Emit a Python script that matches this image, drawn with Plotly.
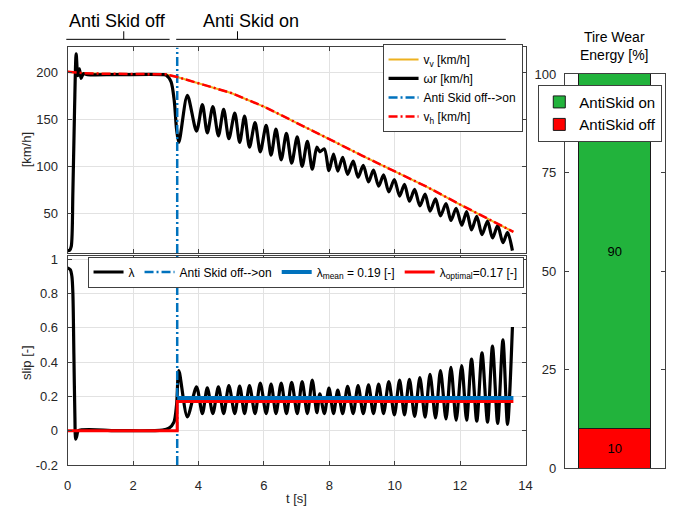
import plotly.graph_objects as go

# ---------------- data ----------------
switch_time = 3.35
end_time = 13.63

# vehicle speed / reference speed [km/h]
vh_t = [0, 0.5, 1, 2, 3, 3.35, 4, 5, 6, 7, 8, 9, 10, 11, 12, 13, 13.63]
vh_v = [201, 199.5, 199, 198.7, 198.3, 195.5, 188.5, 178.5, 164, 147, 129.5, 112, 95.5, 78.5, 60, 42, 31]
vv_t = vh_t
vv_v = vh_v

# wheel speed omega*r [km/h]
wr_t = [0, 0.06, 0.11, 0.16, 0.21, 0.26, 0.31, 0.36, 0.41, 0.48, 0.6, 1.5, 2.9, 3.01, 3.16, 3.26, 3.33,
        3.40, 3.66, 3.94, 4.12, 4.27, 4.44, 4.61, 4.77, 4.93, 5.11, 5.26, 5.41, 5.56, 5.73, 5.89, 6.07,
        6.22, 6.37, 6.53, 6.69, 6.85, 7.02, 7.17, 7.33, 7.48, 7.62, 7.71, 7.85, 7.99, 8.13, 8.26, 8.41,
        8.56, 8.73, 8.88, 9.04, 9.20, 9.35, 9.51, 9.66, 9.82, 9.99, 10.15, 10.30, 10.45, 10.61, 10.77,
        10.93, 11.08, 11.25, 11.40, 11.57, 11.72, 11.88, 12.05, 12.20, 12.35, 12.51, 12.67, 12.84, 12.99,
        13.15, 13.31, 13.45, 13.60]
wr_v = [11, 11.5, 15.5, 74, 160, 220, 197, 204, 194, 199, 198, 198, 198, 197.5, 190.5, 170, 140,
        126, 176, 138, 166, 136, 164, 133, 161, 130, 157, 126, 154, 121, 147, 116, 144,
        112.5, 140, 107.5, 135.5, 104, 132, 100.5, 127, 97.5, 121, 116, 119, 96, 113.5, 95.5, 110,
        92, 106, 89, 101.5, 84, 96.5, 79.5, 91.5, 73.5, 86.5, 69, 81.5, 63.5, 76, 58.5,
        71, 53, 66, 48, 61, 43, 56, 38, 52.5, 33, 47.5, 28, 42.5, 24.5,
        37.5, 19.5, 30.5, 11]

# slip lambda [-]
sl_t = [0, 0.08, 0.13, 0.16, 0.19, 0.22, 0.245, 0.28, 0.33, 1.5, 2.9, 3.1, 3.25, 3.33,
        3.40, 3.66, 3.94, 4.12, 4.27, 4.44, 4.61, 4.77, 4.93, 5.11, 5.26, 5.41, 5.56, 5.73, 5.89, 6.07,
        6.22, 6.37, 6.53, 6.69, 6.85, 7.02, 7.17, 7.33, 7.48, 7.62, 7.71, 7.85, 7.99, 8.13, 8.26, 8.41,
        8.56, 8.73, 8.88, 9.04, 9.20, 9.35, 9.51, 9.66, 9.82, 9.99, 10.15, 10.30, 10.45, 10.61, 10.77,
        10.93, 11.08, 11.25, 11.40, 11.57, 11.72, 11.88, 12.05, 12.20, 12.35, 12.51, 12.67, 12.84, 12.99,
        13.15, 13.31, 13.45, 13.60]
sl_v = [0.95, 0.94, 0.9, 0.8, 0.45, 0.1, -0.05, -0.03, 0.0, 0.0, 0.003, 0.015, 0.05, 0.15,
        0.35, 0.08, 0.255, 0.10, 0.25, 0.10, 0.255, 0.10, 0.263, 0.10, 0.26, 0.10, 0.263, 0.10, 0.278, 0.10,
        0.272, 0.10, 0.278, 0.10, 0.282, 0.10, 0.286, 0.10, 0.295, 0.105, 0.215, 0.10, 0.248, 0.10, 0.236, 0.10,
        0.258, 0.10, 0.263, 0.10, 0.267, 0.10, 0.272, 0.10, 0.286, 0.092, 0.295, 0.092, 0.30, 0.083, 0.31,
        0.079, 0.328, 0.074, 0.351, 0.068, 0.37, 0.061, 0.379, 0.061, 0.418, 0.055, 0.454, 0.049, 0.493,
        0.042, 0.53, 0.036, 0.605]

lambda_mean = 0.19
lambda_opt = 0.17

# tire wear energy [%]
wear_labels = ["AntiSkid off", "AntiSkid on"]
wear_values = [10, 90]
wear_colors = ["#ff0000", "#22b33c"]

top_yr = [8.6, 226.8]
bot_yr = [-0.2, 1.022]

W, H = 686, 514
def px(x): return x / W
def py(y): return 1 - y / H

BLUE = "#0072BD"
ORANGE = "#EDB120"
DASHDOT = "9px,3px,2px,3px"
AX = "#404040"
TXT = "#262626"
GRID = "#e2e2e2"
FONT = "Liberation Sans, Arial, sans-serif"

fig = go.Figure()

# top subplot
fig.add_trace(go.Scatter(x=vv_t, y=vv_v, mode="lines", name="v<sub>v</sub> [km/h]",
                         line=dict(color=ORANGE, width=2), xaxis="x", yaxis="y", legend="legend"))
fig.add_trace(go.Scatter(x=wr_t, y=wr_v, mode="lines", name="ωr [km/h]",
                         line=dict(color="black", width=3.2, shape="spline", smoothing=0.8),
                         xaxis="x", yaxis="y", legend="legend"))
fig.add_trace(go.Scatter(x=[switch_time, switch_time], y=top_yr, mode="lines", name="Anti Skid off-->on",
                         line=dict(color=BLUE, width=2.5, dash=DASHDOT), xaxis="x", yaxis="y", legend="legend"))
fig.add_trace(go.Scatter(x=vh_t, y=vh_v, mode="lines", name="v<sub>h</sub> [km/h]",
                         line=dict(color="#ff0000", width=2.5, dash=DASHDOT), xaxis="x", yaxis="y", legend="legend"))

# bottom subplot
fig.add_trace(go.Scatter(x=sl_t, y=sl_v, mode="lines", name="λ",
                         line=dict(color="black", width=3.2, shape="spline", smoothing=0.8),
                         xaxis="x2", yaxis="y2", legend="legend2"))
fig.add_trace(go.Scatter(x=[switch_time, switch_time], y=bot_yr, mode="lines", name="Anti Skid off-->on",
                         line=dict(color=BLUE, width=2.5, dash=DASHDOT), xaxis="x2", yaxis="y2", legend="legend2"))
fig.add_trace(go.Scatter(x=[switch_time, end_time], y=[lambda_mean, lambda_mean], mode="lines",
                         name="λ<sub>mean</sub> = 0.19 [-]", line=dict(color=BLUE, width=4),
                         xaxis="x2", yaxis="y2", legend="legend2"))
fig.add_trace(go.Scatter(x=[0, switch_time, switch_time, end_time], y=[0, 0, lambda_opt, lambda_opt], mode="lines",
                         name="λ<sub>optimal</sub>=0.17 [-]", line=dict(color="#ff0000", width=3),
                         xaxis="x2", yaxis="y2", legend="legend2"))

# bar subplot
for lab, val, col in zip(wear_labels, wear_values, wear_colors):
    fig.add_trace(go.Bar(x=[1], y=[val], name=lab, marker=dict(color=col, line=dict(color="#1a1a1a", width=1)),
                         width=0.72, text=[str(val)], textposition="inside", insidetextanchor="middle",
                         textfont=dict(color="black", size=13, family=FONT), xaxis="x3", yaxis="y3",
                         legend="legend3"))

xdom = [px(64.7), px(530)]
common_axis = dict(showline=True, linecolor=AX, linewidth=1, mirror="ticks", ticks="inside", ticklen=4,
                   tickcolor=AX, zeroline=False, tickfont=dict(size=13, color=TXT, family=FONT))

fig.update_layout(
    width=W, height=H, margin=dict(l=0, r=0, t=0, b=0),
    paper_bgcolor="white", plot_bgcolor="white", barmode="stack",
    font=dict(family=FONT, color=TXT),
    xaxis=dict(domain=xdom, range=[0, 14], anchor="y", tickvals=list(range(0, 15, 2)), showticklabels=False,
               showgrid=True, gridcolor=GRID, **common_axis),
    yaxis=dict(domain=[py(253.3), py(41.7)], range=top_yr, anchor="x", tickvals=[50, 100, 150, 200],
               showgrid=True, gridcolor=GRID, ticklabelstandoff=6, **common_axis),
    xaxis2=dict(domain=xdom, range=[0, 14], anchor="y2", tickvals=list(range(0, 15, 2)),
                showgrid=True, gridcolor=GRID, ticklabelstandoff=8, **common_axis),
    yaxis2=dict(domain=[py(471.7), py(256)], range=bot_yr, anchor="x2",
                tickvals=[-0.2, 0, 0.2, 0.4, 0.6, 0.8, 1],
                ticktext=["-0.2", "0", "0.2", "0.4", "0.6", "0.8", "1"],
                showgrid=True, gridcolor=GRID, ticklabelstandoff=6, **common_axis),
    xaxis3=dict(domain=[px(570), px(671.5)], range=[0.5, 1.5], anchor="y3", showticklabels=False,
                showline=True, linecolor=AX, mirror=True, ticks="", showgrid=False, zeroline=False),
    yaxis3=dict(domain=[py(475), py(69)], range=[0, 100], anchor="x3", tickvals=[0, 25, 50, 75, 100],
                showgrid=False, ticklabelstandoff=5, **common_axis),
    legend=dict(x=px(527), xanchor="right", y=py(38), yanchor="top", bgcolor="white", bordercolor=AX,
                borderwidth=1, font=dict(size=12, color="black", family=FONT), tracegroupgap=0),
    legend2=dict(x=px(528), xanchor="right", y=py(257), yanchor="top", orientation="h", bgcolor="white",
                 bordercolor=AX, borderwidth=1, font=dict(size=12, color="black", family=FONT)),
    legend3=dict(x=px(543), xanchor="left", y=py(80), yanchor="top", bgcolor="white", bordercolor=AX,
                 borderwidth=1, traceorder="reversed", font=dict(size=15, color="black", family=FONT)),
    showlegend=True,
)

# axis titles and header annotations
ann = [
    dict(text="[km/h]", x=px(23), y=py(147), textangle=-90, font=dict(size=13, color=TXT)),
    dict(text="slip [-]", x=px(23), y=py(366), textangle=-90, font=dict(size=13, color=TXT)),
    dict(text="t [s]", x=px(297), y=py(506), font=dict(size=13, color=TXT)),
    dict(text="Anti Skid off", x=px(115), y=py(14), font=dict(size=18, color="black")),
    dict(text="Anti Skid on", x=px(251), y=py(14), font=dict(size=18, color="black")),
    dict(text="Tire Wear<br>Energy [%]", x=px(620), y=py(40), font=dict(size=14, color="black")),
]
for a in ann:
    fig.add_annotation(xref="paper", yref="paper", showarrow=False, xanchor="center", yanchor="middle", **a)

# bracket lines above top plot
for x0, x1, y0, y1 in [(63.3, 168.3, 33.3, 33.3), (121.7, 121.7, 25, 33.3),
                       (175, 510, 33.3, 33.3), (237.3, 237.3, 25, 33.3)]:
    fig.add_shape(type="line", xref="paper", yref="paper", x0=px(x0), x1=px(x1), y0=py(y0), y1=py(y1),
                  line=dict(color="black", width=1))

fig.write_html("out.html")
